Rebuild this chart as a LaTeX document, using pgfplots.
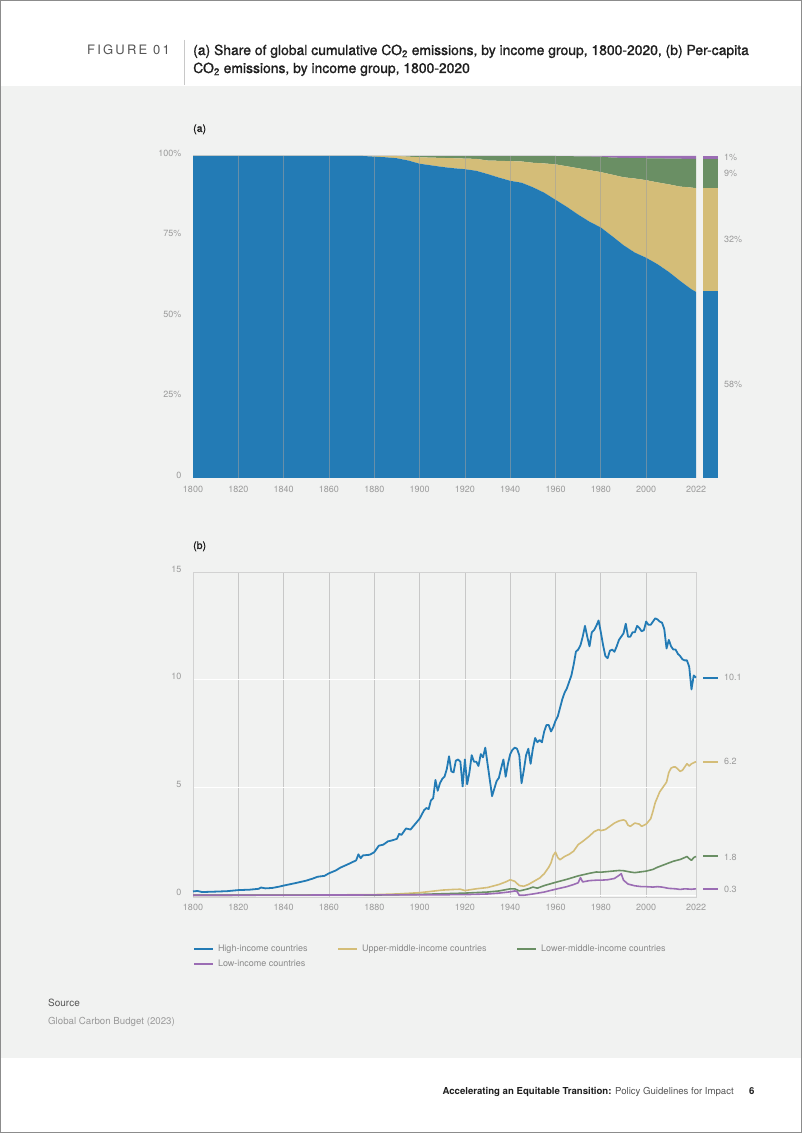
\documentclass[border=0pt]{standalone}
\usepackage{fontspec}
\setmainfont{TeX Gyre Heros}
\newfontfamily\medfont[FakeBold=1.2]{TeX Gyre Heros}
\usepackage{pgfplots}
\pgfplotsset{compat=1.18}
\usepackage{pgfplotstable}

\definecolor{cblue}{HTML}{237BB5}
\definecolor{ctan}{HTML}{D4BD78}
\definecolor{cgreen}{HTML}{6A8F64}
\definecolor{cpurple}{HTML}{9B6DB4}
\definecolor{bandgray}{HTML}{F1F2F1}
\definecolor{bordergray}{HTML}{8C8C8C}
\definecolor{tickgray}{HTML}{9A9A9A}
\definecolor{legendgray}{HTML}{8A8A8A}
\definecolor{headgray}{HTML}{555555}
\definecolor{titleblack}{HTML}{1E1E1E}
\definecolor{framegray}{HTML}{D2D2D2}
\definecolor{gridgray}{HTML}{C8C8C8}
\definecolor{areagrid}{HTML}{A0A0A0}

\pgfplotstableread{
year blue tan green purple
1800 100 0 0 0
1875 100 0 0 0
1880 99.8 0.2 0 0
1885 99.6 0.4 0 0
1890 99.3 0.7 0 0
1895 98.6 1.2 0.2 0
1900 97.6 2.0 0.4 0
1905 97.1 2.4 0.5 0
1910 96.6 2.8 0.6 0
1915 96.2 3.1 0.7 0
1920 95.9 3.3 0.8 0
1925 95.4 3.7 0.9 0
1930 94.4 4.2 1.4 0
1935 93.3 5.2 1.5 0
1940 92.3 6.1 1.6 0
1945 91.7 6.6 1.7 0
1950 90.3 7.6 2.1 0
1955 88.6 9.1 2.3 0
1960 86.4 11.0 2.6 0
1965 84.2 12.6 3.15 0.05
1970 81.8 14.4 3.7 0.1
1975 79.6 16.0 4.25 0.15
1980 77.8 17.2 4.8 0.2
1985 75.1 19.1 5.3 0.5
1990 72.3 21.1 6.0 0.6
1995 70.0 23.0 6.35 0.65
2000 68.4 24.1 6.8 0.7
2005 66.4 25.4 7.45 0.75
2010 64.0 27.2 8.0 0.8
2015 61.2 29.3 8.65 0.85
2020 58.6 31.6 8.9 0.9
2022 57.8 32.2 9.1 0.9
}\sharedata

\pgfplotstableread{
year v
1800 0.18
1802 0.2
1804 0.15
1810 0.17
1815 0.19
1820 0.24
1825 0.26
1829 0.3
1830 0.36
1832 0.32
1835 0.34
1838 0.4
1840 0.45
1845 0.56
1850 0.68
1853 0.78
1855 0.86
1858 0.9
1860 1.02
1863 1.15
1865 1.28
1868 1.42
1870 1.52
1872 1.62
1873 1.9
1874 1.72
1875 1.85
1878 1.88
1880 2.0
1882 2.3
1884 2.35
1886 2.5
1888 2.55
1890 2.62
1891 2.85
1892 2.8
1894 3.1
1896 3.05
1898 3.3
1900 3.55
1901 3.75
1902 3.95
1903 4.05
1904 4.0
1905 4.4
1906 4.5
1907 5.35
1908 4.85
1909 5.2
1910 5.4
1911 5.5
1912 5.85
1913 6.45
1914 5.75
1915 5.7
1916 6.25
1917 6.3
1918 6.2
1919 5.05
1920 6.3
1921 5.15
1922 5.7
1923 6.5
1924 6.2
1925 6.2
1926 6.0
1927 6.55
1928 6.4
1929 6.85
1930 6.1
1931 5.35
1932 4.6
1933 4.95
1934 5.3
1935 5.45
1936 5.9
1937 6.3
1938 5.5
1939 6.1
1940 6.55
1941 6.75
1942 6.85
1943 6.8
1944 6.5
1945 5.2
1946 5.8
1947 6.5
1948 6.8
1949 6.1
1950 6.8
1951 7.3
1952 7.1
1953 7.2
1954 7.1
1955 7.6
1956 7.9
1957 7.9
1958 7.6
1959 7.8
1960 8.1
1961 8.3
1962 8.7
1963 9.1
1964 9.4
1965 9.6
1966 9.9
1967 10.2
1968 10.7
1969 11.3
1970 11.4
1971 11.6
1972 12.0
1973 12.5
1974 12.0
1975 11.55
1976 12.2
1977 12.3
1978 12.5
1979 12.75
1980 12.2
1981 11.6
1982 11.1
1983 11.0
1984 11.35
1985 11.4
1986 11.3
1987 11.55
1988 11.85
1989 12.0
1990 12.15
1991 12.6
1992 12.0
1993 12.0
1994 12.2
1995 12.2
1996 12.5
1997 12.4
1998 12.25
1999 12.3
2000 12.7
2001 12.55
2002 12.55
2003 12.7
2004 12.85
2005 12.8
2006 12.7
2007 12.65
2008 12.35
2009 11.45
2010 11.85
2011 11.55
2012 11.4
2013 11.4
2014 11.2
2015 11.1
2016 10.95
2017 10.9
2018 10.9
2019 10.6
2020 9.55
2021 10.2
2022 10.1
}\hic

\pgfplotstableread{
year v
1800 0.0
1850 0.01
1880 0.03
1890 0.06
1900 0.12
1905 0.18
1910 0.24
1915 0.27
1918 0.28
1920 0.22
1925 0.3
1930 0.36
1935 0.5
1938 0.62
1940 0.72
1942 0.65
1944 0.45
1946 0.42
1948 0.5
1950 0.62
1953 0.8
1955 1.0
1957 1.3
1958 1.5
1959 1.85
1960 2.0
1961 1.75
1962 1.65
1964 1.8
1966 1.9
1968 2.05
1970 2.35
1972 2.5
1975 2.75
1977 2.95
1979 3.05
1980 3.0
1982 3.05
1984 3.2
1986 3.35
1988 3.45
1990 3.5
1991 3.45
1992 3.25
1993 3.2
1995 3.35
1997 3.3
1998 3.2
2000 3.3
2002 3.55
2003 3.9
2004 4.3
2006 4.8
2008 5.1
2009 5.25
2010 5.7
2011 5.9
2012 5.95
2013 5.95
2014 5.85
2015 5.75
2016 5.8
2017 5.95
2018 6.1
2019 6.0
2020 6.1
2021 6.15
2022 6.2
}\umic

\pgfplotstableread{
year v
1800 0.0
1880 0.01
1900 0.04
1910 0.07
1920 0.1
1930 0.15
1935 0.2
1940 0.3
1942 0.3
1944 0.2
1946 0.25
1948 0.3
1950 0.38
1952 0.33
1955 0.45
1960 0.6
1965 0.74
1970 0.9
1975 1.02
1978 1.08
1980 1.07
1985 1.12
1988 1.15
1990 1.14
1993 1.08
1995 1.05
2000 1.12
2003 1.2
2005 1.3
2008 1.42
2010 1.5
2012 1.58
2015 1.66
2017 1.75
2018 1.8
2019 1.7
2020 1.62
2021 1.75
2022 1.8
}\lmic

\pgfplotstableread{
year v
1800 0.0
1900 0.02
1920 0.03
1930 0.06
1935 0.1
1940 0.16
1942 0.2
1943 0.18
1944 0.0
1946 0.0
1948 0.03
1950 0.06
1955 0.15
1960 0.28
1965 0.4
1968 0.5
1970 0.58
1971 0.82
1972 0.62
1975 0.68
1978 0.7
1980 0.7
1983 0.72
1986 0.78
1988 0.92
1989 1.0
1990 0.7
1992 0.52
1995 0.44
1998 0.4
2000 0.4
2003 0.38
2005 0.4
2007 0.38
2010 0.32
2013 0.3
2015 0.27
2017 0.3
2020 0.28
2022 0.3
}\lic

\begin{document}
\begin{tikzpicture}[x=1pt,y=1pt]
\fill[white] (0,0) rectangle (802,1133);
\fill[bandgray] (0,75) rectangle (802,1047);
\draw[bordergray, line width=1.2pt] (0.6,0.6) rectangle (801.4,1132.4);

% header
\node[anchor=base east, inner sep=0pt, text=headgray, font=\fontsize{13}{15}\selectfont\addfontfeatures{LetterSpace=17}] at (170,1078) {FIGURE 01};
\draw[gridgray, line width=0.8pt] (184,1093) -- (184,1048);
\node[anchor=base west, inner sep=0pt, text=titleblack, font=\medfont\fontsize{13.9}{16}\selectfont] at (193,1078) {(a) Share of global cumulative CO\textsubscript{2} emissions, by income group, 1800-2020, (b) Per-capita};
\node[anchor=base west, inner sep=0pt, text=titleblack, font=\medfont\fontsize{13.9}{16}\selectfont] at (193,1060) {CO\textsubscript{2} emissions, by income group, 1800-2020};

% panel labels
\node[anchor=base west, inner sep=0pt, text=titleblack, font=\medfont\fontsize{10.5}{12}\selectfont] at (193,1001) {(a)};
\node[anchor=base west, inner sep=0pt, text=titleblack, font=\medfont\fontsize{10.5}{12}\selectfont] at (193,584) {(b)};

% ---------- chart (a)
\begin{axis}[
  at={(193pt,655pt)}, anchor=south west, scale only axis,
  width=503pt, height=322pt,
  xmin=1800, xmax=2022, ymin=0, ymax=100,
  stack plots=y, area style,
  axis line style={draw=none}, tick style={draw=none},
  xtick={1800,1820,1840,1860,1880,1900,1920,1940,1960,1980,2000,2022},
  ytick={0,25,50,75,100}, yticklabels={0,25\%,50\%,75\%,100\%},
  extra x ticks={1820,1840,1860,1880,1900,1920,1940,1960,1980,2000},
  extra x tick labels={},
  extra x tick style={grid=major},
  major grid style={areagrid, opacity=0.55, line width=0.7pt},
  axis on top,
  /pgf/number format/assume math mode=true,
  /pgf/number format/1000 sep={},
  ticklabel style={font=\fontsize{9}{10}\selectfont, text=tickgray},
  xticklabel style={yshift=-5pt},
  yticklabel style={xshift=-8pt, yshift=3pt},
]
\addplot[fill=cblue, draw=none] table[x=year, y=blue] {\sharedata} \closedcycle;
\addplot[fill=ctan, draw=none] table[x=year, y=tan] {\sharedata} \closedcycle;
\addplot[fill=cgreen, draw=none] table[x=year, y=green] {\sharedata} \closedcycle;
\addplot[fill=cpurple, draw=none] table[x=year, y=purple] {\sharedata} \closedcycle;
\end{axis}

\begin{axis}[
  at={(703pt,655pt)}, anchor=south west, scale only axis,
  width=15pt, height=322pt,
  xmin=0, xmax=1, ymin=0, ymax=100,
  stack plots=y, area style, hide axis, clip=false,
]
\addplot[fill=cblue, draw=none] coordinates {(0,58) (1,58)} \closedcycle;
\addplot[fill=ctan, draw=none] coordinates {(0,32) (1,32)} \closedcycle;
\addplot[fill=cgreen, draw=none] coordinates {(0,9) (1,9)} \closedcycle;
\addplot[fill=cpurple, draw=none] coordinates {(0,1) (1,1)} \closedcycle;
\end{axis}
\begin{scope}[every node/.style={anchor=west, inner sep=0pt, text=tickgray, font=\fontsize{9}{10}\selectfont}]
\node at (724,1133-157) {1\%};
\node at (724,1133-173) {9\%};
\node at (724,1133-239) {32\%};
\node at (724,1133-384) {58\%};
\end{scope}

% ---------- chart (b)
\begin{axis}[
  at={(193pt,236pt)}, anchor=south west, scale only axis,
  width=503pt, height=325pt,
  xmin=1800, xmax=2022, ymin=-0.08, ymax=15,
  clip=false,
  axis line style={draw=framegray, line width=0.8pt}, tick style={draw=none},
  xtick={1800,1820,1840,1860,1880,1900,1920,1940,1960,1980,2000,2022},
  ytick={0,5,10,15},
  xmajorgrids, ymajorgrids,
  x grid style={gridgray, line width=0.7pt},
  y grid style={white, line width=0.7pt},
  /pgf/number format/assume math mode=true,
  /pgf/number format/1000 sep={},
  ticklabel style={font=\fontsize{9}{10}\selectfont, text=tickgray},
  xticklabel style={yshift=-4pt},
  yticklabel style={xshift=-8pt, yshift=3pt},
  legend columns=3,
  legend image code/.code={\draw[#1, line width=2pt] (0pt,0pt) -- (19pt,0pt);},
  legend style={at={(0,-0.1477)}, anchor=north west, draw=none, fill=none,
    inner sep=0pt, outer sep=0pt, row sep=7pt,
    font=\fontsize{9}{10}\selectfont, text=legendgray,
    nodes={inner sep=0pt, anchor=west},
    /tikz/every odd column/.append style={column sep=4pt},
    /tikz/every even column/.append style={column sep=29.5pt}},
  legend cell align=left,
]
\addplot[cblue, line width=1.8pt, line join=round] table[x=year, y=v] {\hic};
\addlegendentry{High-income countries}
\addplot[ctan, line width=1.6pt, line join=round] table[x=year, y=v] {\umic};
\addlegendentry{Upper-middle-income countries}
\addplot[cgreen, line width=1.6pt, line join=round] table[x=year, y=v] {\lmic};
\addlegendentry{Lower-middle-income countries}
\addplot[cpurple, line width=1.6pt, line join=round] table[x=year, y=v] {\lic};
\addlegendentry{Low-income countries}

\addplot[cblue, line width=2pt, forget plot] coordinates {(2025.1,10.1) (2031.7,10.1)};
\addplot[ctan, line width=2pt, forget plot] coordinates {(2025.1,6.2) (2031.7,6.2)};
\addplot[cgreen, line width=2pt, forget plot] coordinates {(2025.1,1.8) (2031.7,1.8)};
\addplot[cpurple, line width=2pt, forget plot] coordinates {(2025.1,0.3) (2031.7,0.3)};
\end{axis}
\begin{scope}[every node/.style={anchor=west, inner sep=0pt, text=tickgray, font=\fontsize{9}{10}\selectfont}]
\node at (724,1133-677) {10.1};
\node at (724,1133-761) {6.2};
\node at (724,1133-857) {1.8};
\node at (724,1133-889) {0.3};
\end{scope}

% source
\node[anchor=base west, inner sep=0pt, text=headgray, font=\fontsize{10}{12}\selectfont] at (48,1133-1007) {Source};
\node[anchor=base west, inner sep=0pt, text=tickgray, font=\fontsize{9.7}{12}\selectfont] at (48,1133-1025) {Global Carbon Budget (2023)};

% footer
\node[anchor=base east, inner sep=0pt, font=\fontsize{9.6}{12}\selectfont] at (734,1133-1095) {\textcolor{titleblack}{\bfseries Accelerating an Equitable Transition:} \textcolor{headgray}{Policy Guidelines for Impact}};
\node[anchor=base west, inner sep=0pt, text=titleblack, font=\fontsize{9.6}{12}\selectfont\bfseries] at (749,1133-1095) {6};
\end{tikzpicture}
\end{document}
